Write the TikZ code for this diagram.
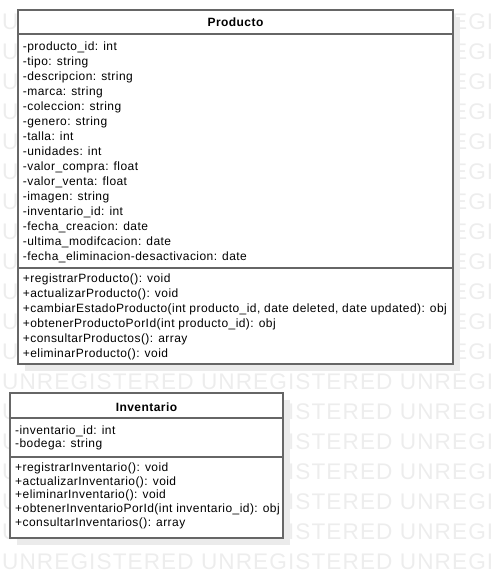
\documentclass[tikz,border=0pt]{standalone}
\usepackage{fontspec}
\setmainfont{Liberation Sans}
\newfontfamily\umlfont[LetterSpace=3.7]{Liberation Sans}
\newfontfamily\markfont[LetterSpace=4.8]{Liberation Sans}
\definecolor{umlline}{HTML}{666666}
\definecolor{shadowgray}{HTML}{EBEBEB}
\definecolor{markgray}{HTML}{EDEDED}
\tikzset{
  classbox/.style={draw=umlline,line width=1.5pt,fill=white},
  classshadow/.style={fill=shadowgray},
  sepline/.style={draw=umlline,line width=1.5pt},
  member/.style={anchor=base west,inner sep=0pt,font=\umlfont\fontsize{12}{15}\selectfont},
  classname/.style={anchor=base,inner sep=0pt,font=\umlfont\fontsize{12}{15}\selectfont\bfseries},
  watermark/.style={anchor=base west,inner sep=0pt,text=markgray,font=\markfont\fontsize{22.6}{26}\selectfont}
}
\begin{document}
\begin{tikzpicture}[x=1pt,y=-1pt,line join=miter]
  \useasboundingbox (0,0) rectangle (493,579);
  \begin{scope}
    \clip (0,0) rectangle (493,579);
    % watermark rows
    \foreach \r in {0,...,18}
      \node[watermark] (wm\r) at (2,{569.3-30*\r}) {UNREGISTERED UNREGISTERED UNREGISTERED};
  \end{scope}

  % Producto
  \fill[classshadow] (25,17) rectangle (460,371);
  \draw[classbox] (18,10) rectangle (453,364);
  \draw[sepline] (18,34) -- (453,34);
  \draw[sepline] (18,268) -- (453,268);
  \node[classname] (prodname) at (235.5,26.5) {Producto};
  \foreach \txt [count=\i from 0] in {-producto\_id: int, -tipo: string, -descripcion: string,
      -marca: string, -coleccion: string, -genero: string, -talla: int, -unidades: int,
      -valor\_compra: float, -valor\_venta: float, -imagen: string, -inventario\_id: int,
      -fecha\_creacion: date, -ultima\_modifcacion: date,
      -fecha\_eliminacion-desactivacion: date}
    \node[member] (pa\i) at (22.7,{50+15*\i}) {\txt};
  \foreach \txt [count=\i from 0] in {+registrarProducto(): void, +actualizarProducto(): void,
      {+cambiarEstadoProducto(int producto\_id, date deleted, date updated): obj},
      +obtenerProductoPorId(int producto\_id): obj, +consultarProductos(): array,
      +eliminarProducto(): void}
    \node[member] (pm\i) at (22.7,{282+15*\i}) {\txt};

  % Inventario
  \fill[classshadow] (17,400) rectangle (290,545);
  \draw[classbox] (10,393) rectangle (283,538);
  \draw[sepline] (10,418) -- (283,418);
  \draw[sepline] (10,457) -- (283,457);
  \node[classname] (invname) at (146.5,411) {Inventario};
  \foreach \txt [count=\i from 0] in {-inventario\_id: int, -bodega: string}
    \node[member] (ia\i) at (15,{434.3+13.6*\i}) {\txt};
  \foreach \txt [count=\i from 0] in {+registrarInventario(): void, +actualizarInventario(): void,
      +eliminarInventario(): void, +obtenerInventarioPorId(int inventario\_id): obj,
      +consultarInventarios(): array}
    \node[member] (im\i) at (15,{471.3+13.7*\i}) {\txt};
\end{tikzpicture}
\end{document}
